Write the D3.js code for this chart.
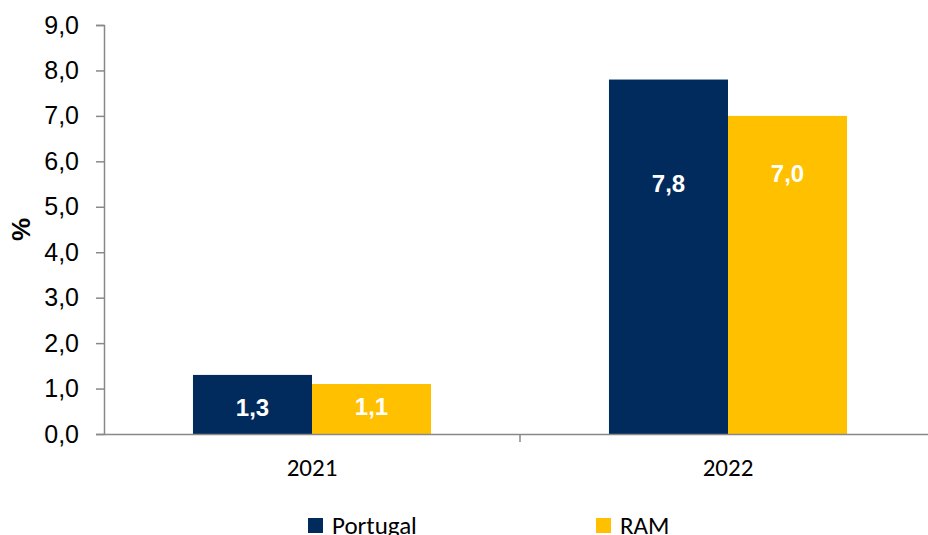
<!DOCTYPE html>
<html><head><meta charset="utf-8">
<script src="https://cdn.jsdelivr.net/npm/d3@7"></script>
<style>body{margin:0;background:#fff}svg{display:block}</style>
</head><body>
<script>
const categories = ["2021", "2022"];
const seriesNames = ["Portugal", "RAM"];
const portugal = [1.3, 7.8];
const ram = [1.1, 7.0];
const portugalLabelAt = [0.58, 5.5];
const ramLabelAt = [0.6, 5.72];
const yTicks = [0, 1, 2, 3, 4, 5, 6, 7, 8, 9];
const colors = ["#002B5C", "#FFC000"];

const W = 928, H = 535;
const m = {left: 104, right: -8, top: 25, bottom: 101};
const svg = d3.select("body").append("svg").attr("width", W).attr("height", H);
const fmt = v => d3.format(".1f")(v).replace(".", ",");

const x = d3.scaleBand().domain(categories).range([m.left, W - m.right]);
const y = d3.scaleLinear().domain([0, 9]).range([H - m.bottom, m.top]);
const inner = d3.scaleBand().domain(seriesNames).range([0, x.bandwidth()]).paddingOuter(0.7475);
const axisColor = "#888";

const series = [portugal, ram];
const labelAt = [portugalLabelAt, ramLabelAt];

const g = svg.append("g");
seriesNames.forEach((s, si) => {
  g.selectAll(null).data(categories).enter().append("rect")
    .attr("x", (c) => x(c) + inner(s))
    .attr("width", inner.bandwidth())
    .attr("y", (c, i) => y(series[si][i]))
    .attr("height", (c, i) => y(0) - y(series[si][i]))
    .attr("fill", colors[si]);
  g.selectAll(null).data(categories).enter().append("text")
    .attr("x", (c) => x(c) + inner(s) + inner.bandwidth() / 2)
    .attr("y", (c, i) => y(labelAt[si][i]))
    .attr("dy", "0.35em")
    .attr("text-anchor", "middle")
    .attr("fill", "#fff")
    .attr("font-family", "Arial, 'Liberation Sans', sans-serif")
    .attr("font-weight", "bold")
    .attr("font-size", 24)
    .text((c, i) => fmt(series[si][i]));
});

// Y axis
const yAxis = svg.append("g").attr("transform", `translate(${m.left},0)`)
  .call(d3.axisLeft(y).tickValues(yTicks).tickFormat(fmt).tickSize(8).tickPadding(17));
yAxis.select(".domain").attr("stroke", axisColor).attr("stroke-width", 1.5);
yAxis.selectAll(".tick line").attr("stroke", axisColor).attr("stroke-width", 1.5);
yAxis.selectAll(".tick text").attr("fill", "#000")
  .attr("font-family", "Arial, 'Liberation Sans', sans-serif").attr("font-size", 25);

// X axis
const xAxis = svg.append("g").attr("transform", `translate(0,${y(0)})`)
  .call(d3.axisBottom(x).tickSize(0).tickPadding(24));
xAxis.select(".domain").attr("stroke", axisColor).attr("stroke-width", 1.5);
xAxis.selectAll(".tick text").attr("fill", "#000")
  .attr("font-family", "Carlito, Lato, 'Liberation Sans', sans-serif").attr("font-size", 25);
// category separators
svg.append("g").selectAll("line").data(categories.slice(1)).enter().append("line")
  .attr("x1", c => x(c)).attr("x2", c => x(c))
  .attr("y1", y(0)).attr("y2", y(0) + 8)
  .attr("stroke", axisColor).attr("stroke-width", 1.5);

// Y title
svg.append("text")
  .attr("transform", `translate(30,${(y(0) + y(9)) / 2}) rotate(-90)`)
  .attr("text-anchor", "middle")
  .attr("font-family", "Arial, 'Liberation Sans', sans-serif")
  .attr("font-weight", "bold").attr("font-size", 26)
  .text("%");

// Legend
const legendX = [308, 596];
const leg = svg.append("g");
seriesNames.forEach((s, i) => {
  leg.append("rect").attr("x", legendX[i]).attr("y", 518).attr("width", 15).attr("height", 15).attr("fill", colors[i]);
  leg.append("text").attr("x", legendX[i] + 24).attr("y", 534)
    .attr("font-family", "Carlito, Lato, 'Liberation Sans', sans-serif").attr("font-size", 25)
    .attr("fill", "#000").text(s);
});
</script>
</body></html>
